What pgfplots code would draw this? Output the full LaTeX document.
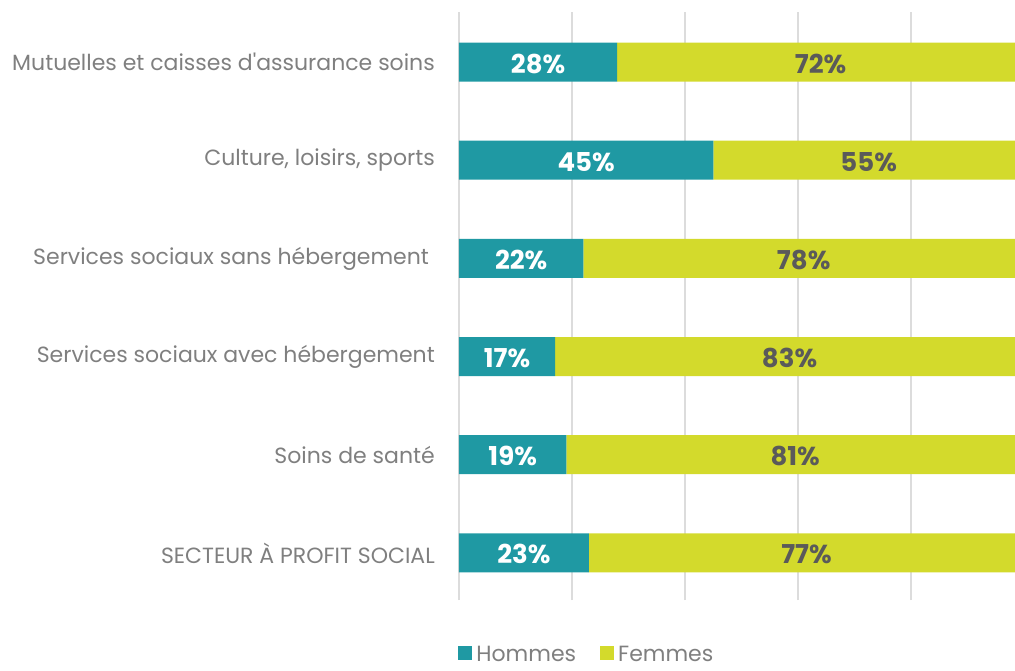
\documentclass[border=0pt]{standalone}
\usepackage{pgfplots}
\pgfplotsset{compat=1.18}
\usepackage{pgfplotstable}
\usepackage{fontspec}
\setmainfont{Poppins}[Ligatures=TeXOff]
\definecolor{hcol}{HTML}{1F99A3}
\definecolor{fcol}{HTML}{D3DA2C}
\definecolor{labgray}{HTML}{7F7F7F}
\definecolor{valgray}{HTML}{5A5A5A}
\definecolor{gridgray}{HTML}{DCDCDC}
\pgfplotstableread{
idx h f
0 23 77
1 19 81
2 17 83
3 22 78
4 45 55
5 28 72
}\data
\pgfplotsset{common/.style={
  at={(459pt,70pt)}, anchor=south west,
  scale only axis, width=556pt, height=588pt,
  xmin=0, xmax=98.4, ymin=-0.48, ymax=5.51}}
\begin{document}
\begin{tikzpicture}
\useasboundingbox (0,0) rectangle (1015pt,670pt);
\begin{axis}[
  common,
  xbar stacked, bar width=39pt,
  xtick={0,20,40,60,80}, xticklabels={},
  xmajorgrids, grid style={gridgray, line width=2pt},
  ytick={0,1,2,3,4,5},
  yticklabels={SECTEUR À PROFIT SOCIAL, Soins de santé, Services sociaux avec hébergement, Services sociaux sans hébergement\ \ , {Culture, loisirs, sports}, Mutuelles et caisses d'assurance soins},
  yticklabel style={anchor=east, inner sep=0pt, xshift=-24pt, font=\fontsize{22}{24}\selectfont, text=labgray},
  major tick length=0pt,
  axis line style={draw=none},
  legend style={at={(0.23,-0.093)}, anchor=center, draw=none, fill=none, font=\fontsize{22}{24}\selectfont, text=labgray, legend columns=2, /tikz/every even column/.append style={column sep=22pt}, /tikz/every odd column/.append style={column sep=2pt}},
  legend image code/.code={\fill[#1] (0pt,-5pt) rectangle (14pt,9pt);},
]
\addplot[fill=hcol, draw=none] table[x=h, y=idx] \data;
\addlegendentry{Hommes}
\addplot[fill=fcol, draw=none] table[x=f, y=idx] \data;
\addlegendentry{Femmes}
\end{axis}
\begin{axis}[
  common, hide axis, clip=false,
  /pgf/number format/assume math mode=true,
  nodes near coords={\pgfmathprintnumber{\pgfplotspointmeta}\%},
  point meta=explicit,
]
\addplot[draw=none, mark=none, nodes near coords style={anchor=center, yshift=-1.5pt, text=white, font=\fontsize{26}{28}\selectfont\bfseries}]
  table[x expr=\thisrow{h}/2, y=idx, meta=h] \data;
\addplot[draw=none, mark=none, nodes near coords style={anchor=center, yshift=-1.5pt, text=valgray, font=\fontsize{26}{28}\selectfont\bfseries}]
  table[x expr=\thisrow{h}+\thisrow{f}/2, y=idx, meta=f] \data;
\end{axis}
\end{tikzpicture}
\end{document}
